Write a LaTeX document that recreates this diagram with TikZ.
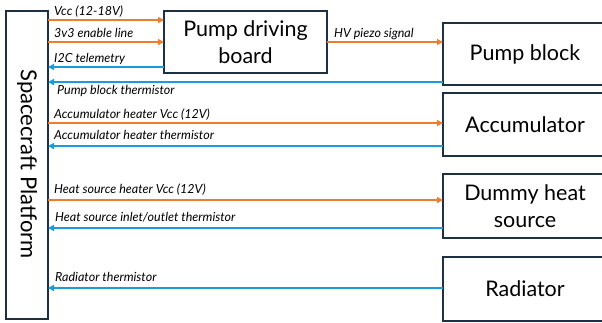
\documentclass[tikz,border=0pt]{standalone}
\usepackage{fontspec}
\setmainfont{Lato}
\usetikzlibrary{arrows.meta}
\definecolor{edge}{HTML}{1F3042}
\definecolor{pwr}{HTML}{ED7D31}
\definecolor{sig}{HTML}{1E9AD8}
\tikzset{
  boxline/.style={draw=edge,line width=1.3pt},
  big/.style={align=center,font=\fontsize{21.5}{27}\selectfont},
  pline/.style={draw=pwr,line width=1.3pt,-{Triangle[length=6pt,width=6pt]}},
  sline/.style={draw=sig,line width=1.3pt,-{Triangle[length=6pt,width=6pt]}},
  lbl/.style={font=\fontsize{12.5}{14}\selectfont\itshape,inner sep=0pt,anchor=base west}
}
\begin{document}
\begin{tikzpicture}[x=1pt,y=-1pt]
\useasboundingbox (0,0) rectangle (602,322);
% blocks
\draw[boxline] (6,11) rectangle (48,319);
\node[rotate=-90,big,font=\fontsize{22}{26}\selectfont] (plat) at (27,164) {Spacecraft Platform};
\draw[boxline] (164,11) rectangle (327,73);
\node[big] (pdb) at (245.5,42) {Pump driving\\board};
\draw[boxline] (443,23) rectangle (640,85);
\node[big] (pb) at (525,54) {Pump block};
\draw[boxline] (443,93) rectangle (640,156);
\node[big] (acc) at (525,125) {Accumulator};
\draw[boxline] (443,174) rectangle (640,238);
\node[big] (dhs) at (525,206) {Dummy heat\\source};
\draw[boxline] (443,257) rectangle (640,321);
\node[big] (rad) at (525,289) {Radiator};
% connectors
\coordinate (b1) at (164,20); \coordinate (p1) at (48,20);
\draw[pline] (p1) -- (b1);
\node[lbl] at (54,15) {Vcc (12-18V)};
\coordinate (b2) at (164,42); \coordinate (p2) at (48,42);
\draw[pline] (p2) -- (b2);
\node[lbl] at (54,37) {3v3 enable line};
\coordinate (b3) at (164,67); \coordinate (p3) at (48,67);
\draw[sline] (b3) -- (p3);
\node[lbl] at (54,62) {I2C telemetry};
\coordinate (h1) at (327,42); \coordinate (h2) at (443,42);
\draw[pline] (h1) -- (h2);
\node[lbl] at (334,37) {HV piezo signal};
\coordinate (k1) at (443,82); \coordinate (k2) at (48,82);
\draw[sline] (k1) -- (k2);
\node[lbl] at (57,94) {Pump block thermistor};
\coordinate (a1) at (48,123); \coordinate (a2) at (443,123);
\draw[pline] (a1) -- (a2);
\node[lbl] at (54,118) {Accumulator heater Vcc (12V)};
\coordinate (a3) at (443,146); \coordinate (a4) at (48,146);
\draw[sline] (a3) -- (a4);
\node[lbl] at (54,139) {Accumulator heater thermistor};
\coordinate (d1) at (48,200); \coordinate (d2) at (443,200);
\draw[pline] (d1) -- (d2);
\node[lbl] at (54,193) {Heat source heater Vcc (12V)};
\coordinate (d3) at (443,228); \coordinate (d4) at (48,228);
\draw[sline] (d3) -- (d4);
\node[lbl] at (55,221) {Heat source inlet/outlet thermistor};
\coordinate (r1) at (443,288); \coordinate (r2) at (48,288);
\draw[sline] (r1) -- (r2);
\node[lbl] at (55,281) {Radiator thermistor};
\end{tikzpicture}
\end{document}
